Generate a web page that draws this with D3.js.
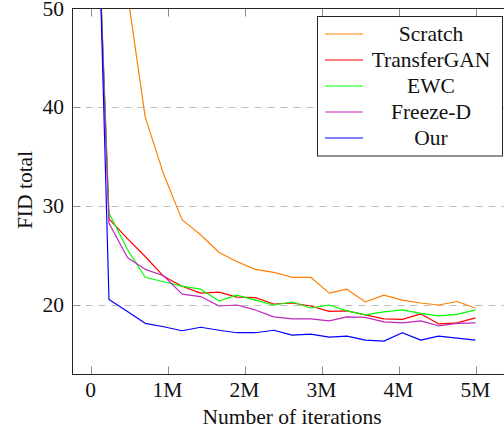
<!DOCTYPE html>
<html>
<head>
<meta charset="utf-8">
<script src="https://cdn.jsdelivr.net/npm/d3@7"></script>
<style>
  html, body { margin: 0; padding: 0; background: #fff; }
  svg { display: block; }
  text { font-family: "Liberation Serif", "DejaVu Serif", serif; fill: #111; }
</style>
</head>
<body>
<svg id="chart" width="504" height="433"></svg>
<script>
// ---- data (iterations in millions) ----
const iterations = [0, 0.24, 0.48, 0.71, 0.95, 1.19, 1.43, 1.67, 1.90, 2.14, 2.38, 2.62, 2.86, 3.10, 3.33, 3.57, 3.81, 4.05, 4.29, 4.52, 4.76, 5.00];
const scratch     = [110, 70, 51.5, 39.0, 33.2, 28.6, 27.1, 25.3, 24.4, 23.6, 23.3, 22.8, 22.8, 21.2, 21.6, 20.3, 21.0, 20.5, 20.2, 20.0, 20.35, 19.7];
const transferGAN = [80, 28.7, 26.7, 24.9, 22.9, 21.9, 21.2, 21.3, 20.8, 20.75, 20.1, 20.2, 19.9, 19.35, 19.4, 19.0, 18.6, 18.55, 19.1, 18.1, 18.2, 18.7];
const ewc         = [80, 29.3, 25.6, 22.8, 22.35, 21.9, 21.6, 20.4, 21.0, 20.5, 20.0, 20.3, 19.7, 20.0, 19.4, 19.0, 19.3, 19.5, 19.15, 18.9, 19.05, 19.5];
const freezeD     = [80, 28.25, 24.8, 23.6, 22.95, 21.1, 20.85, 19.9, 20.0, 19.5, 18.8, 18.6, 18.6, 18.4, 18.8, 18.75, 18.3, 18.2, 18.4, 17.9, 18.15, 18.2];
const our         = [89, 20.55, 19.35, 18.15, 17.8, 17.4, 17.75, 17.45, 17.2, 17.2, 17.45, 16.95, 17.05, 16.75, 16.85, 16.45, 16.35, 17.2, 16.45, 16.85, 16.65, 16.45];

const seriesNames  = ["Scratch", "TransferGAN", "EWC", "Freeze-D", "Our"];
const seriesValues = [scratch, transferGAN, ewc, freezeD, our];
const seriesColors = ["#ff8000", "#ff0000", "#00ff00", "#bf25bf", "#0000ff"];

const xTickValues = [0, 1, 2, 3, 4, 5];
const xTickLabels = ["0", "1M", "2M", "3M", "4M", "5M"];
const yTickValues = [20, 30, 40, 50];
const gridValues  = [20, 30, 40];

const xLabel = "Number of iterations";
const yLabel = "FID total";

// ---- layout ----
const svg = d3.select("#chart");
const pLeft = 72.5, pRight = 512, pTop = 8.5, pBottom = 374.5;

const x = d3.scaleLinear().domain([0, 5]).range([90.5, 475.5]);
const y = d3.scaleLinear().domain([20, 50]).range([305, 8]);

svg.append("defs").append("clipPath").attr("id", "plotclip")
  .append("rect").attr("x", pLeft).attr("y", pTop)
  .attr("width", pRight - pLeft).attr("height", pBottom - pTop);

// grid
svg.append("g").selectAll("line").data(gridValues).join("line")
  .attr("x1", pLeft).attr("x2", pRight)
  .attr("y1", d => Math.round(y(d)) + 0.5).attr("y2", d => Math.round(y(d)) + 0.5)
  .attr("stroke", "#bdbdbd").attr("stroke-width", 1)
  .attr("stroke-dasharray", "7,6");

// ticks (inward, pgfplots style)
const tickLen = 8;
const tg = svg.append("g").attr("stroke", "#8c8c8c").attr("stroke-width", 1);
tg.selectAll("line.xb").data(xTickValues).join("line").attr("class", "xb")
  .attr("x1", d => Math.round(x(d)) + 0.5).attr("x2", d => Math.round(x(d)) + 0.5)
  .attr("y1", pBottom).attr("y2", pBottom - tickLen);
tg.selectAll("line.xt").data(xTickValues).join("line").attr("class", "xt")
  .attr("x1", d => Math.round(x(d)) + 0.5).attr("x2", d => Math.round(x(d)) + 0.5)
  .attr("y1", pTop).attr("y2", pTop + tickLen);
tg.selectAll("line.yl").data(yTickValues).join("line").attr("class", "yl")
  .attr("x1", pLeft).attr("x2", pLeft + tickLen)
  .attr("y1", d => Math.round(y(d)) + 0.5).attr("y2", d => Math.round(y(d)) + 0.5);

// series
const line = d3.line().x((d, i) => x(iterations[i])).y(d => y(d));
svg.append("g").attr("clip-path", "url(#plotclip)")
  .selectAll("path").data(seriesValues).join("path")
  .attr("d", d => line(d))
  .attr("fill", "none")
  .attr("stroke", (d, i) => seriesColors[i])
  .attr("stroke-width", 1.2)
  .attr("stroke-linejoin", "round");

// frame
svg.append("rect").attr("x", pLeft).attr("y", pTop)
  .attr("width", pRight - pLeft).attr("height", pBottom - pTop)
  .attr("fill", "none").attr("stroke", "#262626").attr("stroke-width", 1);

// tick labels
svg.append("g").selectAll("text").data(xTickValues).join("text")
  .attr("x", d => x(d)).attr("y", 397)
  .attr("text-anchor", "middle").attr("font-size", 21.5)
  .text((d, i) => xTickLabels[i]);
svg.append("g").selectAll("text").data(yTickValues).join("text")
  .attr("x", 64).attr("y", d => Math.max(y(d) + 7, 16))
  .attr("text-anchor", "end").attr("font-size", 21.5)
  .text(d => d);

// axis labels
svg.append("text").attr("x", 292).attr("y", 424)
  .attr("text-anchor", "middle").attr("font-size", 21.5).text(xLabel);
svg.append("text").attr("transform", "translate(32,190) rotate(-90)")
  .attr("text-anchor", "middle").attr("font-size", 21.5).text(yLabel);

// legend
const lg = svg.append("g");
lg.append("rect").attr("x", 317.5).attr("y", 16.5).attr("width", 185).attr("height", 139.5)
  .attr("fill", "#fff").attr("stroke", "#262626").attr("stroke-width", 1);
const rowY = d3.scaleLinear().domain([0, 4]).range([34, 138]);
const items = lg.selectAll("g.item").data(seriesNames).join("g").attr("class", "item");
items.append("line")
  .attr("x1", 325).attr("x2", 363)
  .attr("y1", (d, i) => rowY(i)).attr("y2", (d, i) => rowY(i))
  .attr("stroke", (d, i) => seriesColors[i]).attr("stroke-width", 1.2);
items.append("text")
  .attr("x", 431).attr("y", (d, i) => rowY(i) + 7)
  .attr("text-anchor", "middle").attr("font-size", 21.5)
  .text(d => d);
</script>
</body>
</html>
